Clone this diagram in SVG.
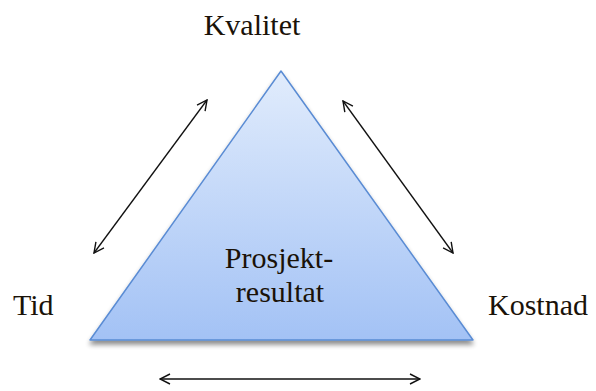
<svg xmlns="http://www.w3.org/2000/svg" width="596" height="391" viewBox="0 0 596 391">
  <defs>
    <linearGradient id="fillTri" x1="0" y1="0" x2="0" y2="1">
      <stop offset="0" stop-color="#e1ecfc"/>
      <stop offset="1" stop-color="#a3c2f5"/>
    </linearGradient>
    <filter id="shadow" x="-10%" y="-10%" width="120%" height="130%">
      <feGaussianBlur in="SourceAlpha" stdDeviation="2.5"/>
      <feOffset dx="0" dy="4" result="b"/>
      <feComponentTransfer><feFuncA type="linear" slope="0.45"/></feComponentTransfer>
      <feMerge><feMergeNode/><feMergeNode in="SourceGraphic"/></feMerge>
    </filter>
    <marker id="head" viewBox="0 0 12 12" refX="11" refY="6" markerWidth="12" markerHeight="12" markerUnits="userSpaceOnUse" orient="auto-start-reverse">
      <path d="M1,1 L11,6 L1,11" fill="none" stroke="#111" stroke-width="1.4"/>
    </marker>
  </defs>
  <rect width="596" height="391" fill="#ffffff"/>

  <!-- central triangle with its two-line label -->
  <g id="node-prosjektresultat">
    <polygon points="281,71 473,340 90,340" fill="url(#fillTri)" stroke="#5a8cd4" stroke-width="1.5" stroke-linejoin="round" filter="url(#shadow)"/>
    <text x="279" y="268" font-family="Liberation Serif" font-size="30" fill="#1a1208" text-anchor="middle">Prosjekt-</text>
    <text x="280" y="302" font-family="Liberation Serif" font-size="30" fill="#1a1208" text-anchor="middle">resultat</text>
  </g>

  <g id="node-kvalitet">
    <text x="252" y="35" font-family="Liberation Serif" font-size="30" fill="#1a1208" text-anchor="middle">Kvalitet</text>
  </g>
  <g id="node-tid">
    <text x="13" y="315" font-family="Liberation Serif" font-size="30" fill="#1a1208">Tid</text>
  </g>
  <g id="node-kostnad">
    <text x="488" y="315" font-family="Liberation Serif" font-size="30" fill="#1a1208">Kostnad</text>
  </g>

  <!-- double-headed arrows along the three sides -->
  <g id="connectors" stroke="#111" stroke-width="1.3" fill="none">
    <line x1="94" y1="253" x2="207" y2="100" marker-start="url(#head)" marker-end="url(#head)"/>
    <line x1="343" y1="101" x2="453" y2="253" marker-start="url(#head)" marker-end="url(#head)"/>
    <line x1="160" y1="379" x2="420" y2="379" marker-start="url(#head)" marker-end="url(#head)"/>
  </g>
</svg>
